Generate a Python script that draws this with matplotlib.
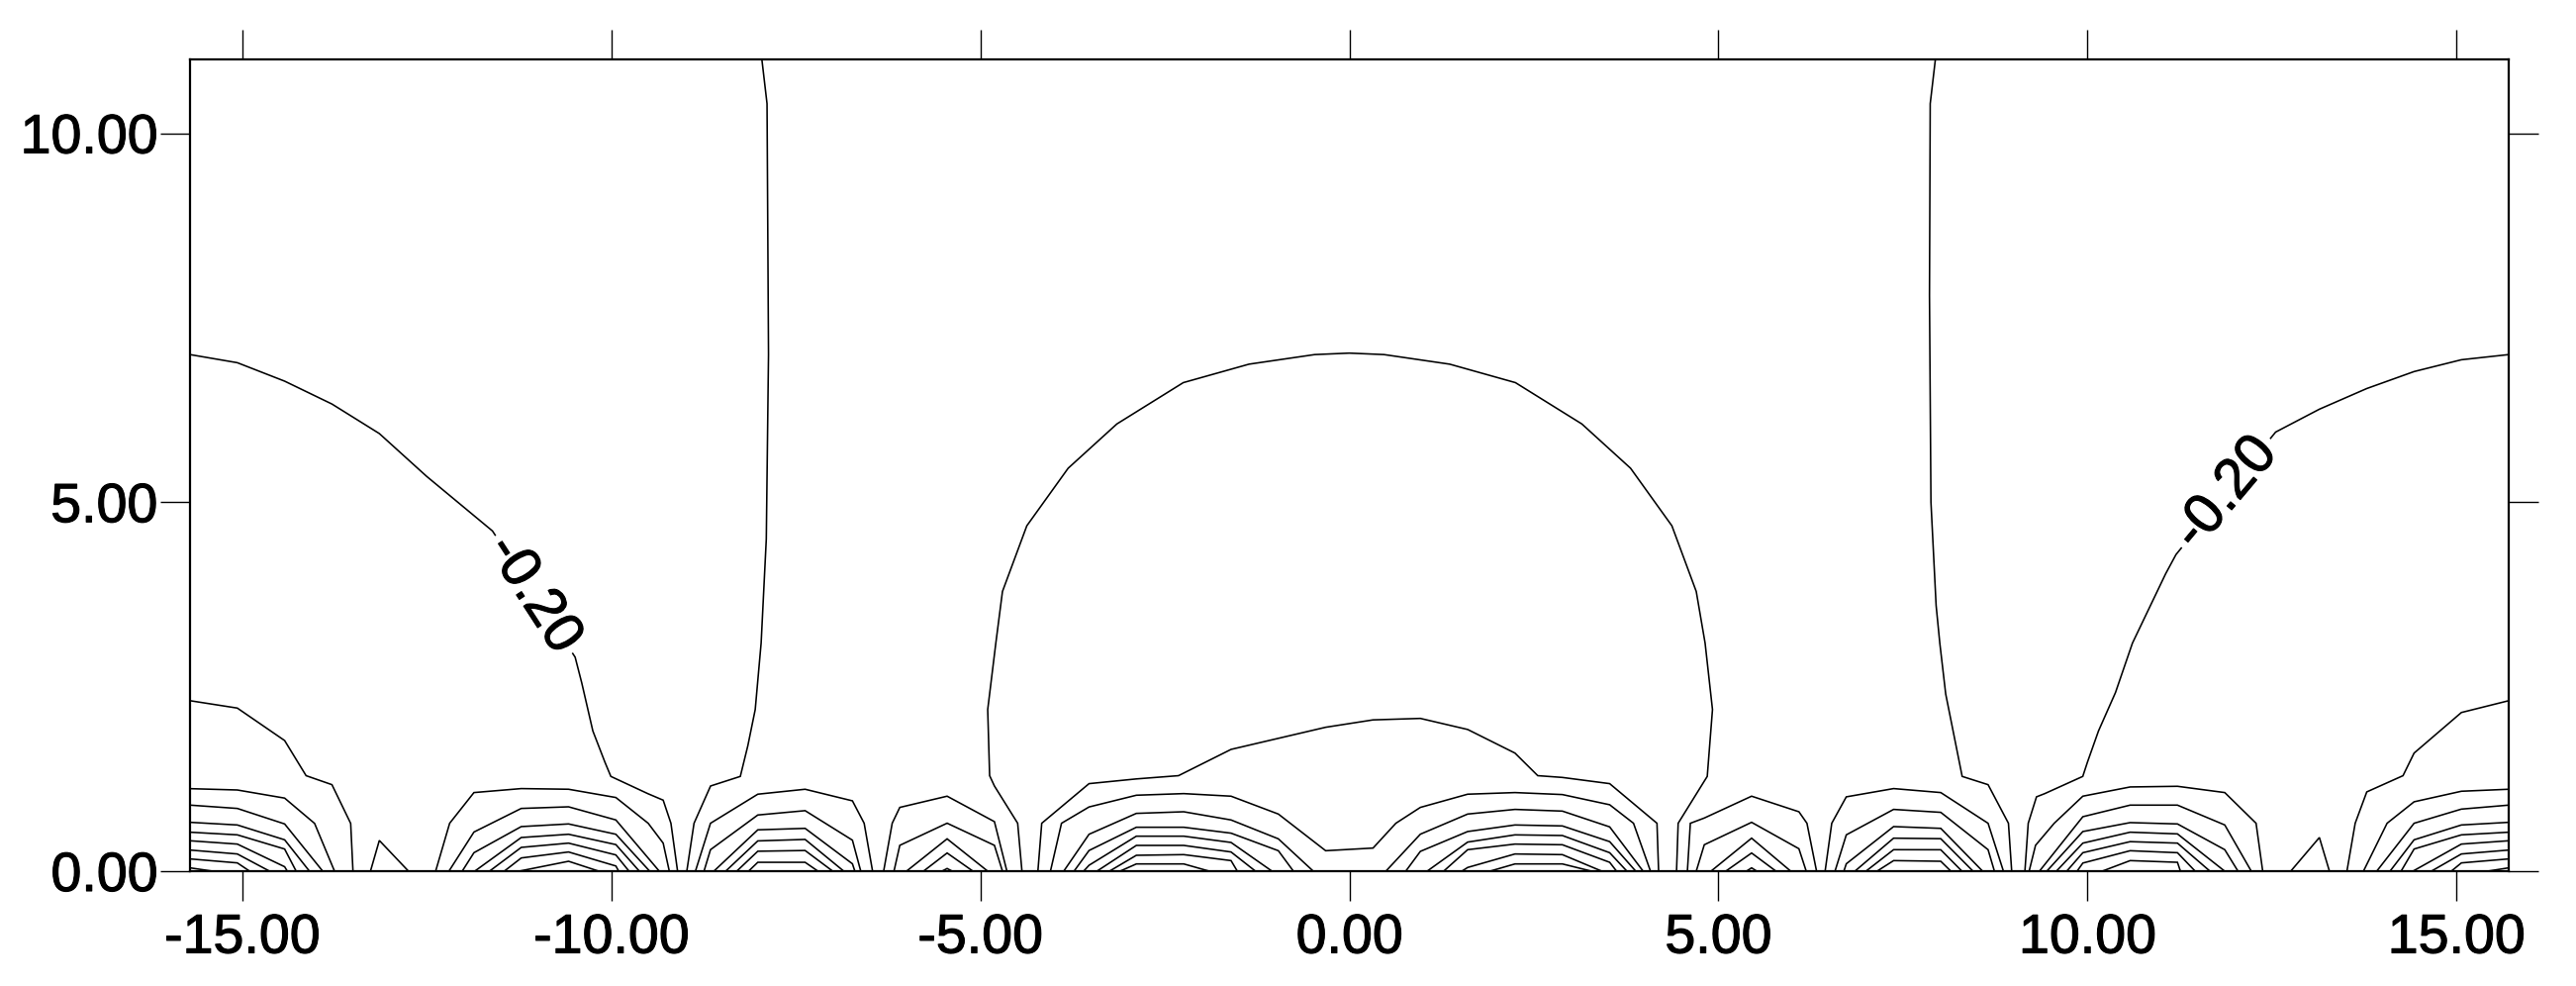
import matplotlib
matplotlib.use('Agg')
import matplotlib.pyplot as plt
import matplotlib.patheffects as pe
from matplotlib.ticker import FormatStrFormatter

plt.rcParams['font.family'] = ['Liberation Sans', 'DejaVu Sans']
plt.rcParams['axes.unicode_minus'] = False

# contour polylines, vertices as (x, y)

# -0.20 level
curve_left = [(-15.708, 7.0), (-15.067, 6.89), (-14.426, 6.64), (-13.785, 6.33), (-13.143, 5.93),
              (-12.502, 5.35), (-11.61, 4.61), (-10.49, 2.90), (-10.40, 2.55), (-10.25, 1.90),
              (-10.086, 1.476), (-10.006, 1.284), (-9.504, 1.05), (-9.297, 0.962), (-9.192, 0.649),
              (-9.102, 0.0)]
curve_right = [(15.708, 7.0), (15.067, 6.93), (14.426, 6.77), (13.785, 6.54), (13.143, 6.26),
               (12.55, 5.95), (11.20, 4.29), (11.06, 4.03), (10.61, 3.09), (10.38, 2.42),
               (10.15, 1.90), (10.0, 1.476), (9.937, 1.284), (9.422, 1.051), (9.31, 1.007),
               (9.198, 0.649), (9.153, 0.0)]
vline_left = [(-7.96, 11.0), (-7.89, 10.4), (-7.87, 7.0), (-7.90, 4.5), (-7.97, 3.09),
              (-8.05, 2.19), (-8.15, 1.70), (-8.252, 1.284), (-8.655, 1.154), (-8.879, 0.649),
              (-8.977, 0.0)]
vline_right = [(7.94, 11.0), (7.87, 10.4), (7.86, 7.8), (7.88, 5.0), (7.95, 3.6), (8.0, 3.09),
               (8.08, 2.4), (8.18, 1.9), (8.303, 1.284), (8.654, 1.172), (8.93, 0.649),
               (8.974, 0.0)]
dome = [(-4.436, 0.0), (-4.494, 0.649), (-4.809, 1.154), (-4.874, 1.294), (-4.90, 2.19),
        (-4.79, 3.09), (-4.70, 3.79), (-4.37, 4.68), (-3.81, 5.46), (-3.15, 6.06), (-2.25, 6.62),
        (-1.36, 6.87), (-0.47, 7.0), (0.0, 7.02), (0.47, 7.0), (1.36, 6.87), (2.25, 6.62),
        (3.15, 6.06), (3.81, 5.46), (4.37, 4.68), (4.70, 3.79), (4.82, 3.09), (4.92, 2.19),
        (4.849, 1.284), (4.809, 1.22), (4.455, 0.649), (4.433, 0.0)]

# half arches on the left edge
edge_left = [
    [(-15.708, 2.31), (-15.067, 2.21), (-14.426, 1.77), (-14.135, 1.294), (-13.785, 1.172),
     (-13.531, 0.647), (-13.50, 0.0)],
    [(-15.708, 1.118), (-15.067, 1.10), (-14.426, 0.99), (-14.02, 0.647), (-13.75, 0.0)],
    [(-15.708, 0.895), (-15.067, 0.85), (-14.426, 0.64), (-13.91, 0.0)],
    [(-15.708, 0.662), (-15.067, 0.626), (-14.426, 0.425), (-14.09, 0.0)],
    [(-15.708, 0.528), (-15.067, 0.492), (-14.426, 0.30), (-14.27, 0.0)],
    [(-15.708, 0.412), (-15.067, 0.367), (-14.426, 0.06), (-14.39, 0.0)],
    [(-15.708, 0.286), (-15.067, 0.233), (-14.63, 0.0)],
    [(-15.708, 0.166), (-15.067, 0.112), (-14.90, 0.0)],
    [(-15.708, 0.045), (-15.40, 0.0)],
]
edge_right = [
    [(13.516, 0.0), (13.628, 0.649), (13.785, 1.074), (14.276, 1.294), (14.426, 1.60),
     (15.067, 2.15), (15.708, 2.31)],
    [(13.74, 0.0), (14.06, 0.649), (14.426, 0.94), (15.067, 1.083), (15.708, 1.11)],
    [(13.92, 0.0), (14.426, 0.649), (15.067, 0.841), (15.708, 0.895)],
    [(14.10, 0.0), (14.426, 0.425), (15.067, 0.626), (15.708, 0.662)],
    [(14.25, 0.0), (14.426, 0.30), (15.067, 0.492), (15.708, 0.528)],
    [(14.41, 0.0), (15.067, 0.367), (15.708, 0.412)],
    [(14.66, 0.0), (15.067, 0.233), (15.708, 0.286)],
    [(14.93, 0.0), (15.067, 0.112), (15.708, 0.166)],
    [(15.42, 0.0), (15.708, 0.045)],
]
spikes = [
    [(-13.263, 0.0), (-13.143, 0.416), (-12.748, 0.0)],
    [(12.755, 0.0), (13.143, 0.456), (13.279, 0.0)],
]

# arch group around x = -10.6 and its mirror near 10.6
arches_m106 = [
    [(-12.38, 0.0), (-12.19, 0.649), (-11.861, 1.065), (-11.22, 1.119), (-10.579, 1.11),
     (-9.938, 0.998), (-9.50, 0.649), (-9.297, 0.38), (-9.214, 0.0)],
    [(-12.20, 0.0), (-11.861, 0.53), (-11.22, 0.85), (-10.579, 0.872), (-9.938, 0.694), (-9.35, 0.0)],
    [(-12.02, 0.0), (-11.861, 0.25), (-11.22, 0.604), (-10.579, 0.640), (-9.938, 0.50), (-9.48, 0.0)],
    [(-11.85, 0.0), (-11.22, 0.456), (-10.579, 0.50), (-9.938, 0.36), (-9.62, 0.0)],
    [(-11.65, 0.0), (-11.22, 0.322), (-10.579, 0.38), (-9.938, 0.22), (-9.76, 0.0)],
    [(-11.45, 0.0), (-11.22, 0.179), (-10.579, 0.26), (-9.938, 0.07), (-9.90, 0.0)],
    [(-11.25, 0.0), (-10.579, 0.134), (-10.17, 0.0)],
]
arches_p106 = [
    [(9.21, 0.0), (9.297, 0.35), (9.55, 0.649), (9.938, 1.016), (10.579, 1.141), (11.22, 1.15),
     (11.861, 1.065), (12.285, 0.649), (12.375, 0.0)],
    [(9.35, 0.0), (9.938, 0.738), (10.579, 0.895), (11.22, 0.895), (11.861, 0.626), (12.22, 0.0)],
    [(9.45, 0.0), (9.938, 0.537), (10.579, 0.658), (11.22, 0.640), (11.861, 0.291), (12.04, 0.0)],
    [(9.58, 0.0), (9.938, 0.38), (10.579, 0.528), (11.22, 0.505), (11.86, 0.0)],
    [(9.72, 0.0), (9.938, 0.25), (10.579, 0.40), (11.22, 0.38), (11.66, 0.0)],
    [(9.86, 0.0), (9.938, 0.11), (10.579, 0.277), (11.22, 0.25), (11.46, 0.0)],
    [(10.2, 0.0), (10.579, 0.143), (11.22, 0.12), (11.26, 0.0)],
]

# arch groups around x = -7.4 / 7.4
arches_m74 = [
    [(-8.86, 0.0), (-8.656, 0.649), (-8.015, 1.043), (-7.374, 1.11), (-6.733, 0.953),
     (-6.574, 0.649), (-6.46, 0.0)],
    [(-8.744, 0.0), (-8.656, 0.291), (-8.015, 0.761), (-7.374, 0.82), (-6.733, 0.42), (-6.62, 0.0)],
    [(-8.61, 0.0), (-8.015, 0.56), (-7.374, 0.58), (-6.733, 0.10), (-6.70, 0.0)],
    [(-8.45, 0.0), (-8.015, 0.41), (-7.374, 0.43), (-6.85, 0.0)],
    [(-8.30, 0.0), (-8.015, 0.27), (-7.374, 0.28), (-7.0, 0.0)],
    [(-8.14, 0.0), (-8.015, 0.12), (-7.374, 0.12), (-7.2, 0.0)],
]
arches_p74 = [
    [(6.446, 0.0), (6.536, 0.649), (6.733, 1.007), (7.374, 1.119), (8.013, 1.065), (8.654, 0.649),
     (8.862, 0.0)],
    [(6.58, 0.0), (6.733, 0.492), (7.374, 0.837), (8.013, 0.797), (8.654, 0.291), (8.74, 0.0)],
    [(6.70, 0.0), (6.733, 0.10), (7.374, 0.604), (8.013, 0.58), (8.58, 0.0)],
    [(6.85, 0.0), (7.374, 0.447), (8.013, 0.44), (8.45, 0.0)],
    [(7.0, 0.0), (7.374, 0.291), (8.013, 0.29), (8.30, 0.0)],
    [(7.15, 0.0), (7.374, 0.143), (8.013, 0.134), (8.15, 0.0)],
]

# arch groups around x = -5.45 / 5.45
arches_m55 = [
    [(-6.31, 0.0), (-6.194, 0.649), (-6.091, 0.864), (-5.450, 1.016), (-4.809, 0.671), (-4.64, 0.0)],
    [(-6.17, 0.0), (-6.091, 0.35), (-5.450, 0.65), (-4.809, 0.35), (-4.70, 0.0)],
    [(-6.0, 0.0), (-5.450, 0.438), (-4.90, 0.0)],
    [(-5.77, 0.0), (-5.450, 0.246), (-5.10, 0.0)],
    [(-5.52, 0.0), (-5.450, 0.036), (-5.38, 0.0)],
]
arches_p55 = [
    [(4.58, 0.0), (4.62, 0.649), (4.809, 0.72), (5.45, 1.016), (6.091, 0.805), (6.20, 0.649),
     (6.33, 0.0)],
    [(4.70, 0.0), (4.809, 0.358), (5.45, 0.662), (6.091, 0.304), (6.19, 0.0)],
    [(4.90, 0.0), (5.45, 0.447), (5.98, 0.0)],
    [(5.10, 0.0), (5.45, 0.246), (5.78, 0.0)],
    [(5.38, 0.0), (5.45, 0.045), (5.52, 0.0)],
]

# centre: two long lines spanning both sub-groups, then separate arches
centre_long = [
    [(-4.22, 0.0), (-4.168, 0.649), (-3.527, 1.186), (-2.886, 1.25), (-2.315, 1.294), (-1.603, 1.65),
     (-0.321, 1.95), (0.321, 2.05), (0.962, 2.07), (1.603, 1.92), (2.244, 1.60), (2.553, 1.294),
     (2.886, 1.27), (3.527, 1.186), (4.168, 0.649), (4.19, 0.0)],
    [(-4.05, 0.0), (-3.90, 0.649), (-3.527, 0.87), (-2.886, 1.029), (-2.244, 1.051), (-1.603, 1.016),
     (-0.962, 0.774), (-0.321, 0.277), (0.321, 0.313), (0.630, 0.649), (0.962, 0.864),
     (1.603, 1.043), (2.244, 1.065), (2.886, 1.038), (3.527, 0.90), (3.85, 0.649), (4.08, 0.0)],
]
arches_m25 = [
    [(-3.87, 0.0), (-3.527, 0.50), (-2.886, 0.783), (-2.244, 0.805), (-1.603, 0.694),
     (-0.962, 0.438), (-0.489, 0.0)],
    [(-3.73, 0.0), (-3.527, 0.28), (-2.886, 0.595), (-2.244, 0.595), (-1.603, 0.515),
     (-0.962, 0.277), (-0.758, 0.0)],
    [(-3.60, 0.0), (-3.527, 0.08), (-2.886, 0.474), (-2.244, 0.474), (-1.603, 0.389), (-1.048, 0.0)],
    [(-3.42, 0.0), (-2.886, 0.349), (-2.244, 0.349), (-1.603, 0.26), (-1.272, 0.0)],
    [(-3.25, 0.0), (-2.886, 0.215), (-2.244, 0.224), (-1.603, 0.143), (-1.518, 0.0)],
    [(-3.107, 0.0), (-2.886, 0.098), (-2.244, 0.098), (-1.898, 0.0)],
]
arches_p25 = [
    [(0.495, 0.0), (0.962, 0.501), (1.603, 0.774), (2.244, 0.837), (2.886, 0.814), (3.527, 0.60),
     (3.98, 0.0)],
    [(0.764, 0.0), (0.962, 0.268), (1.603, 0.537), (2.244, 0.626), (2.886, 0.613), (3.527, 0.40),
     (3.88, 0.0)],
    [(1.054, 0.0), (1.603, 0.394), (2.244, 0.492), (2.886, 0.483), (3.527, 0.25), (3.76, 0.0)],
    [(1.278, 0.0), (1.603, 0.291), (2.244, 0.367), (2.886, 0.358), (3.527, 0.12), (3.62, 0.0)],
    [(1.524, 0.0), (1.603, 0.05), (2.244, 0.233), (2.886, 0.224), (3.42, 0.0)],
    [(1.905, 0.0), (2.244, 0.098), (2.886, 0.098), (3.28, 0.0)],
]

label_text = '-0.20'
label_pos = [(-11.05, 3.75), (11.88, 5.12)]
label_rot = [-57, 50]

x_ticks = [-15, -10, -5, 0, 5, 10, 15]
y_ticks = [0, 5, 10]

fig = plt.figure(figsize=(26.03, 9.96), dpi=100)
ax = fig.add_axes([192 / 2603, 116 / 996, 2343 / 2603, 820 / 996])

lines = ([curve_left, curve_right, vline_left, vline_right, dome] + edge_left + edge_right + spikes
         + arches_m106 + arches_p106 + arches_m74 + arches_p74 + arches_m55 + arches_p55
         + centre_long + arches_m25 + arches_p25)
for line in lines:
    xs = [p[0] for p in line]
    ys = [p[1] for p in line]
    ax.plot(xs, ys, color='black', linewidth=1.15, solid_joinstyle='miter')

# slightly heavier glyphs, like the original export
heavy = [pe.withStroke(linewidth=0.8, foreground='black')]

for (lx, ly), rot in zip(label_pos, label_rot):
    t = ax.text(lx, ly, label_text, rotation=rot, rotation_mode='anchor', ha='center', va='center',
                fontsize=41, color='black', zorder=5,
                bbox=dict(facecolor='white', edgecolor='none', pad=4))
    t.set_path_effects(heavy)

ax.set_xlim(-15.708, 15.708)
ax.set_ylim(0, 11)
ax.set_xticks(x_ticks)
ax.set_yticks(y_ticks)
ax.xaxis.set_major_formatter(FormatStrFormatter('%.2f'))
ax.yaxis.set_major_formatter(FormatStrFormatter('%.2f'))
ax.tick_params(direction='out', length=21.6, width=1.0, top=True, right=True, labelsize=40)
ax.tick_params(axis='x', pad=9)
ax.tick_params(axis='y', pad=2)
for lab in ax.get_xticklabels() + ax.get_yticklabels():
    lab.set_path_effects(heavy)
for sp in ax.spines.values():
    sp.set_linewidth(1.6)

fig.savefig('out.png', dpi=100)
